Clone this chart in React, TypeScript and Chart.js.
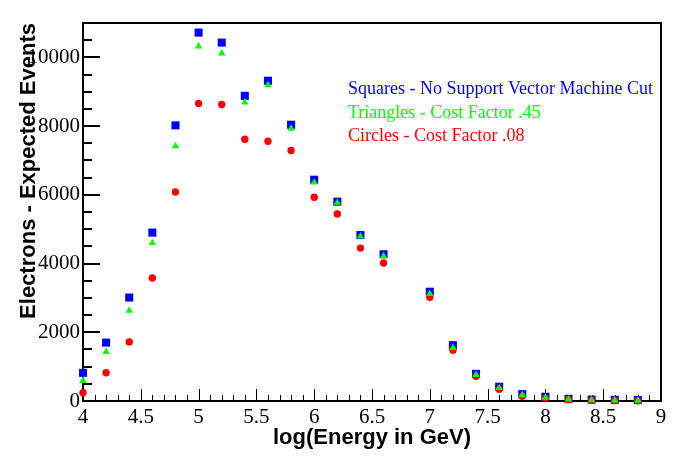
import React, { useEffect, useRef } from 'react';
import { Chart, registerables } from 'chart.js';

Chart.register(...registerables);

const energies = [4.0, 4.2, 4.4, 4.6, 4.8, 5.0, 5.2, 5.4, 5.6, 5.8, 6.0, 6.2, 6.4, 6.6, 7.0, 7.2, 7.4, 7.6, 7.8, 8.0, 8.2, 8.4, 8.6, 8.8];
const squaresNoCut = [820, 1700, 3010, 4900, 8020, 10720, 10430, 8880, 9320, 8040, 6440, 5800, 4830, 4270, 3180, 1625, 790, 415, 200, 125, 65, 40, 35, 30];
const trianglesCost45 = [590, 1430, 2630, 4600, 7420, 10320, 10120, 8690, 9190, 7930, 6360, 5770, 4790, 4220, 3120, 1545, 760, 380, 170, 100, 50, 25, 20, 15];
const circlesCost08 = [240, 820, 1720, 3580, 6080, 8660, 8630, 7615, 7560, 7290, 5930, 5440, 4450, 4015, 3020, 1480, 720, 340, 140, 80, 40, 15, 12, 8];

const legendLines = [
  'Squares - No Support Vector Machine Cut',
  'Triangles - Cost Factor .45',
  'Circles - Cost Factor .08',
];
const legendColors = ['#0000ff', '#00ff00', '#ff0000'];
const xTitle = 'log(Energy in GeV)';
const yTitle = 'Electrons - Expected Events';

const toPts = (ys: number[]) => energies.map((x, i) => ({ x, y: ys[i] }));

const rootPlugin = {
  id: 'rootStyle',
  beforeDatasetsDraw(chart: any) {
    const { ctx, chartArea, scales } = chart;
    const { left, right, top, bottom } = chartArea;
    ctx.save();
    ctx.strokeStyle = '#000';
    ctx.lineWidth = 1;
    scales.x.ticks.forEach((t: any) => {
      const v = t.value;
      const major = Math.abs(v * 2 - Math.round(v * 2)) < 1e-6;
      const px = Math.round(scales.x.getPixelForValue(v)) + 0.5;
      ctx.beginPath();
      ctx.moveTo(px, bottom);
      ctx.lineTo(px, bottom - (major ? 12 : 6));
      ctx.stroke();
    });
    ctx.lineWidth = 2;
    scales.y.ticks.forEach((t: any) => {
      const v = t.value;
      const major = v % 2000 === 0;
      const py = Math.round(scales.y.getPixelForValue(v));
      ctx.beginPath();
      ctx.moveTo(left, py);
      ctx.lineTo(left + (major ? 17 : 9), py);
      ctx.stroke();
    });
    ctx.lineWidth = 2;
    ctx.strokeRect(left, top, right - left, bottom - top);
    ctx.restore();
  },
  afterDraw(chart: any) {
    const { ctx, chartArea } = chart;
    ctx.save();
    ctx.fillStyle = '#000';
    ctx.font = 'bold 22px "Liberation Sans", Arial, sans-serif';
    ctx.textAlign = 'center';
    ctx.textBaseline = 'alphabetic';
    ctx.fillText(xTitle, (chartArea.left + chartArea.right) / 2, 444);
    ctx.save();
    ctx.translate(35, chartArea.top);
    ctx.rotate(-Math.PI / 2);
    ctx.textAlign = 'right';
    ctx.fillText(yTitle, 0, 0);
    ctx.restore();
    ctx.font = '18px "Liberation Serif", "Times New Roman", serif';
    ctx.textAlign = 'left';
    const baselines = [94, 117.5, 141];
    legendLines.forEach((s, i) => {
      ctx.fillStyle = legendColors[i];
      ctx.fillText(s, 348, baselines[i]);
    });
    ctx.restore();
  },
};

export default function App() {
  const ref = useRef<HTMLCanvasElement | null>(null);
  useEffect(() => {
    if (!ref.current) return;
    const chart = new Chart(ref.current, {
      type: 'scatter',
      data: {
        datasets: [
          {
            label: legendLines[2],
            data: toPts(circlesCost08),
            backgroundColor: '#ff0000',
            pointStyle: 'circle',
            pointRadius: 3.7,
            pointBorderWidth: 0,
            order: 1,
            clip: false as any,
          },
          {
            label: legendLines[0],
            data: toPts(squaresNoCut),
            backgroundColor: '#0000ff',
            pointStyle: 'rect',
            pointRadius: 5.7,
            pointBorderWidth: 0,
            order: 2,
            clip: false as any,
          },
          {
            label: legendLines[1],
            data: toPts(trianglesCost45),
            backgroundColor: '#00ff00',
            pointStyle: 'triangle',
            pointRadius: 4.3,
            pointBorderWidth: 0,
            order: 0,
            clip: false as any,
          },
        ],
      },
      plugins: [rootPlugin],
      options: {
        animation: false,
        responsive: false,
        maintainAspectRatio: false,
        devicePixelRatio: 1,
        layout: { padding: { top: 23, right: 35, left: 0, bottom: 0 } },
        plugins: {
          legend: { display: false },
          tooltip: { enabled: false },
          title: { display: false },
        },
        scales: {
          x: {
            type: 'linear',
            min: 4,
            max: 9,
            grid: { display: false, drawTicks: false },
            border: { display: false },
            afterFit: (s: any) => { s.height = 71; },
            ticks: {
              stepSize: 0.1,
              autoSkip: false,
              maxRotation: 0,
              padding: 4,
              color: '#000',
              font: { family: '"Liberation Serif", "Times New Roman", serif', size: 21 },
              callback: (v: any) => {
                const n = Number(v);
                if (Math.abs(n * 2 - Math.round(n * 2)) < 1e-6) {
                  return String(Math.round(n * 2) / 2);
                }
                return '';
              },
            },
          },
          y: {
            type: 'linear',
            min: 0,
            max: 11000,
            grid: { display: false, drawTicks: false },
            border: { display: false },
            afterFit: (s: any) => { s.width = 83; },
            ticks: {
              stepSize: 500,
              autoSkip: false,
              padding: 3,
              color: '#000',
              font: { family: '"Liberation Serif", "Times New Roman", serif', size: 21 },
              callback: (v: any) => (Number(v) % 2000 === 0 ? String(v) : ''),
            },
          },
        },
      },
    });
    return () => chart.destroy();
  }, []);
  return (
    <div style={{ position: 'absolute', left: 0, top: 0, width: 696, height: 472, background: '#fff' }}>
      <canvas ref={ref} width={696} height={472} style={{ width: 696, height: 472 }} />
    </div>
  );
}
